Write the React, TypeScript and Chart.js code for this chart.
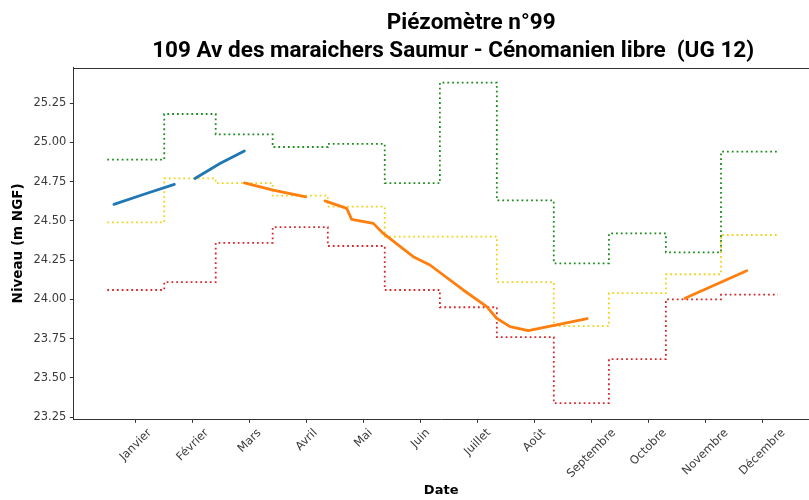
import React, { useEffect, useRef } from "react";
import { Chart, registerables } from "chart.js";

Chart.register(...registerables);

// ---- Data ----
const titleLines = [
  "Piézomètre n°99",
  "109 Av des maraichers Saumur - Cénomanien libre  (UG 12)",
];
const monthLabels = [
  "Janvier", "Février", "Mars", "Avril", "Mai", "Juin",
  "Juillet", "Août", "Septembre", "Octobre", "Novembre", "Décembre",
];
// tick positions (day of year)
const monthTickDays = [15.5, 46.5, 77.5, 108.5, 139.5, 170.5, 201.5, 232.5, 263.5, 294.5, 325.5, 356.5];
// month boundaries (day of year)
const monthStartDays = [0, 31, 59, 90, 120, 151, 181, 212, 243, 273, 304, 334, 365];
const yTickValues = [23.25, 23.5, 23.75, 24.0, 24.25, 24.5, 24.75, 25.0, 25.25];

const maxLevels = [24.89, 25.18, 25.05, 24.97, 24.99, 24.74, 25.38, 24.63, 24.23, 24.42, 24.30, 24.94];
const meanLevels = [24.49, 24.77, 24.74, 24.66, 24.59, 24.40, 24.40, 24.11, 23.83, 24.04, 24.16, 24.41];
const minLevels = [24.06, 24.11, 24.36, 24.46, 24.34, 24.06, 23.95, 23.76, 23.34, 23.62, 24.00, 24.03];

const blueDays = [3.6, 19.6, 36.5, 42, 47.7, 61.3, 74.6];
const blueLevels = [24.605, 24.668, 24.732, null, 24.77, 24.865, 24.945];

const orangeDays = [74.6, 90.3, 108, 113, 118.5, 130.3, 133, 144.8, 150.2, 166.5, 175.6, 193.7, 206.5, 211.9, 219.2, 229.1, 244.6, 261.2, 290, 314.4, 348];
const orangeLevels = [24.742, 24.695, 24.653, null, 24.627, 24.579, 24.509, 24.484, 24.42, 24.272, 24.219, 24.06, 23.954, 23.88, 23.827, 23.801, 23.838, 23.878, null, 24.007, 24.183];

const Y_MIN = 23.237;
const Y_MAX = 25.476;
const X_MIN = -18.5;
const X_MAX = 381.9;

function stepPoints(levels: number[]) {
  return monthStartDays.map((d, i) => ({ x: d, y: levels[Math.min(i, levels.length - 1)] }));
}
function linePoints(days: number[], levels: (number | null)[]) {
  return days.map((d, i) => ({ x: d, y: levels[i] }));
}

const TICK_SIZE = 11.5;
const TICK_FONT = `${TICK_SIZE}px "DejaVu Sans"`;
const TICK_COLOR = "#3a3a3a";

const decorPlugin = {
  id: "decor",
  afterDraw(chart: any) {
    const { ctx, chartArea } = chart;
    const xs = chart.scales.x;
    ctx.save();
    // top border
    ctx.strokeStyle = "#333";
    ctx.lineWidth = 1;
    ctx.beginPath();
    const ty = Math.round(chartArea.top) + 0.5;
    ctx.moveTo(chartArea.left, ty);
    ctx.lineTo(chartArea.right, ty);
    ctx.stroke();

    // x tick labels, rotated 45deg, centered on tick
    ctx.font = TICK_FONT;
    ctx.fillStyle = TICK_COLOR;
    ctx.textAlign = "center";
    ctx.textBaseline = "middle";
    monthTickDays.forEach((d, i) => {
      const label = monthLabels[i];
      const x = xs.getPixelForValue(d);
      const w = ctx.measureText(label).width;
      const h = TICK_SIZE * 1.17;
      const bb = (w + h) * Math.SQRT1_2;
      const cy = chartArea.bottom + 7 + bb / 2;
      ctx.save();
      ctx.translate(x, cy);
      ctx.rotate(-Math.PI / 4);
      ctx.fillText(label, 0, 0);
      ctx.restore();
    });

    // title
    ctx.fillStyle = "#000";
    ctx.font = 'bold 22.5px Roboto';
    ctx.textAlign = "center";
    ctx.textBaseline = "alphabetic";
    const cx = (chartArea.left + chartArea.right) / 2 + 12;
    ctx.fillText(titleLines[0], cx + 18, 29);
    ctx.fillText(titleLines[1], cx, 57);
    ctx.restore();
  },
};

export default function App() {
  const ref = useRef<HTMLCanvasElement | null>(null);
  useEffect(() => {
    if (!ref.current) return;
    const dotted = (color: string) => ({
      borderColor: color,
      borderWidth: 1.8,
      borderDash: [1.8, 3],
      pointRadius: 0,
      fill: false,
      stepped: "before" as const,
      tension: 0,
    });
    const chart = new Chart(ref.current, {
      type: "line",
      data: {
        datasets: [
          {
            label: "blue",
            data: linePoints(blueDays, blueLevels),
            borderColor: "#1f77b4",
            borderWidth: 2.8,
            pointRadius: 0,
            spanGaps: false,
            borderCapStyle: "round",
          },
          {
            label: "orange",
            data: linePoints(orangeDays, orangeLevels),
            borderColor: "#ff7f0e",
            borderWidth: 2.8,
            pointRadius: 0,
            spanGaps: false,
            borderCapStyle: "round",
            borderJoinStyle: "round",
          },
          { label: "max", data: stepPoints(maxLevels), ...dotted("#1e8c1e") },
          { label: "mean", data: stepPoints(meanLevels), ...dotted("#f2d21a") },
          { label: "min", data: stepPoints(minLevels), ...dotted("#d8262b") },
        ] as any,
      },
      options: {
        responsive: false,
        animation: false,
        devicePixelRatio: 1,
        layout: { padding: { top: 67.5, left: 0, right: 0, bottom: 0 } },
        plugins: {
          legend: { display: false },
          tooltip: { enabled: false },
          title: { display: false },
        },
        scales: {
          x: {
            type: "linear",
            min: X_MIN,
            max: X_MAX,
            afterBuildTicks: (s: any) => {
              s.ticks = monthTickDays.map((v) => ({ value: v }));
            },
            afterFit: (s: any) => {
              s.height = 80.7;
            },
            ticks: { display: false },
            grid: {
              drawOnChartArea: false,
              drawTicks: true,
              tickLength: 3.5,
              tickColor: "#333",
            },
            border: { display: true, color: "#333", width: 1 },
            title: {
              display: true,
              text: "Date",
              font: { family: "DejaVu Sans", size: 13, weight: "bold" },
              color: "#000",
              padding: { top: 0, bottom: 2 },
            },
          },
          y: {
            type: "linear",
            min: Y_MIN,
            max: Y_MAX,
            afterBuildTicks: (s: any) => {
              s.ticks = yTickValues.map((v) => ({ value: v }));
            },
            afterFit: (s: any) => {
              s.width = 73.3;
            },
            ticks: {
              font: { family: "DejaVu Sans", size: TICK_SIZE },
              color: TICK_COLOR,
              padding: 3.5,
              callback: (v: any) => Number(v).toFixed(2),
            },
            grid: {
              drawOnChartArea: false,
              drawTicks: true,
              tickLength: 3.5,
              tickColor: "#333",
            },
            border: { display: true, color: "#333", width: 1 },
            title: {
              display: true,
              text: "Niveau (m NGF)",
              font: { family: "DejaVu Sans", size: 13.5, weight: "bold" },
              color: "#000",
              padding: { top: 10, bottom: 0 },
            },
          },
        },
      },
      plugins: [decorPlugin],
    });
    return () => chart.destroy();
  }, []);

  return (
    <div style={{ position: "fixed", left: 0, top: 0, width: 809, height: 500, background: "#fff" }}>
      <canvas ref={ref} width={809} height={500} style={{ width: 809, height: 500, display: "block" }} />
    </div>
  );
}
